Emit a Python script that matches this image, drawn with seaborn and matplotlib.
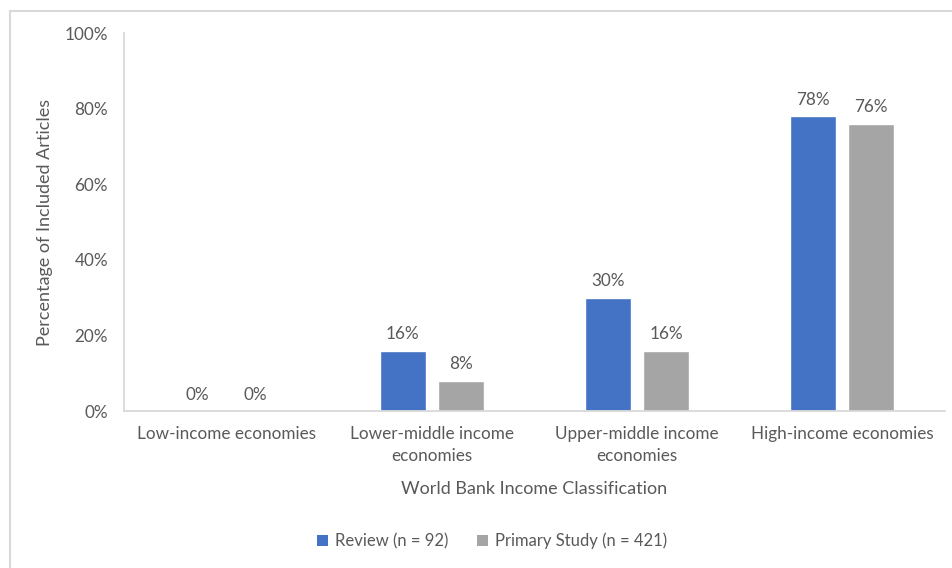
import matplotlib
matplotlib.use("Agg")
import matplotlib.pyplot as plt
from matplotlib.lines import Line2D
from matplotlib.patches import Patch
import pandas as pd
import seaborn as sns

categories = [
    "Low-income economies",
    "Lower-middle income\neconomies",
    "Upper-middle income\neconomies",
    "High-income economies",
]
series_names = ["Review (n = 92)", "Primary Study (n = 421)"]
review_pct = [0, 16, 30, 78]
primary_pct = [0, 8, 16, 76]
y_ticks = [0, 20, 40, 60, 80, 100]
colors = ["#4472C4", "#A5A5A5"]

df = pd.DataFrame({
    "Category": categories * 2,
    "Series": [series_names[0]] * len(categories) + [series_names[1]] * len(categories),
    "Percent": review_pct + primary_pct,
})

sns.set_theme(style="white")
plt.rcParams["font.family"] = ["Lato", "DejaVu Sans"]
text_color = "#595959"
spine_color = "#D9D9D9"

W, H = 953, 568
fig = plt.figure(figsize=(W / 100, H / 100), dpi=100)
ax = fig.add_axes([124 / W, 1 - 411 / H, (945 - 124) / W, (411 - 33) / H])

sns.barplot(
    data=df, x="Category", y="Percent", hue="Series",
    hue_order=series_names, order=categories, palette=colors,
    width=0.565, gap=0.207, saturation=1, ax=ax, legend=False,
)

for cont in ax.containers:
    ax.bar_label(cont, fmt="%.0f%%", padding=6, fontsize=12.3, color=text_color)

ax.set_ylim(0, 100)
ax.set_xlim(-0.5, len(categories) - 0.5)
ax.set_yticks(y_ticks)
ax.set_yticklabels([f"{t}%" for t in y_ticks])
ax.tick_params(axis="both", length=0, labelsize=12.3, labelcolor=text_color)
ax.tick_params(axis="y", pad=11.5)
ax.tick_params(axis="x", pad=11)
for lbl in ax.get_xticklabels():
    lbl.set_linespacing(1.45)

for side in ["top", "right"]:
    ax.spines[side].set_visible(False)
for side in ["left", "bottom"]:
    ax.spines[side].set_color(spine_color)
    ax.spines[side].set_linewidth(1.3)

ax.set_xlabel("World Bank Income Classification", fontsize=13, color=text_color, labelpad=12)
ax.set_ylabel("Percentage of Included Articles", fontsize=13, color=text_color)
ax.yaxis.set_label_coords(-0.0865, 0.5)

handles = [Patch(facecolor=c, edgecolor="none") for c in colors]
fig.legend(
    handles, series_names, loc="center", bbox_to_anchor=(492 / W, 1 - 541 / H),
    ncol=2, frameon=False, fontsize=12, labelcolor=text_color,
    handlelength=0.7, handleheight=0.7, handletextpad=0.4, columnspacing=1.7,
)

# chart-area frame (top and left edges)
fig.add_artist(Line2D([10 / W, 1], [1 - 11 / H, 1 - 11 / H], color=spine_color, lw=1.5,
                      transform=fig.transFigure))
fig.add_artist(Line2D([10 / W, 10 / W], [0, 1 - 11 / H], color=spine_color, lw=1.5,
                      transform=fig.transFigure))

fig.savefig("out.png", dpi=100, facecolor="white")
